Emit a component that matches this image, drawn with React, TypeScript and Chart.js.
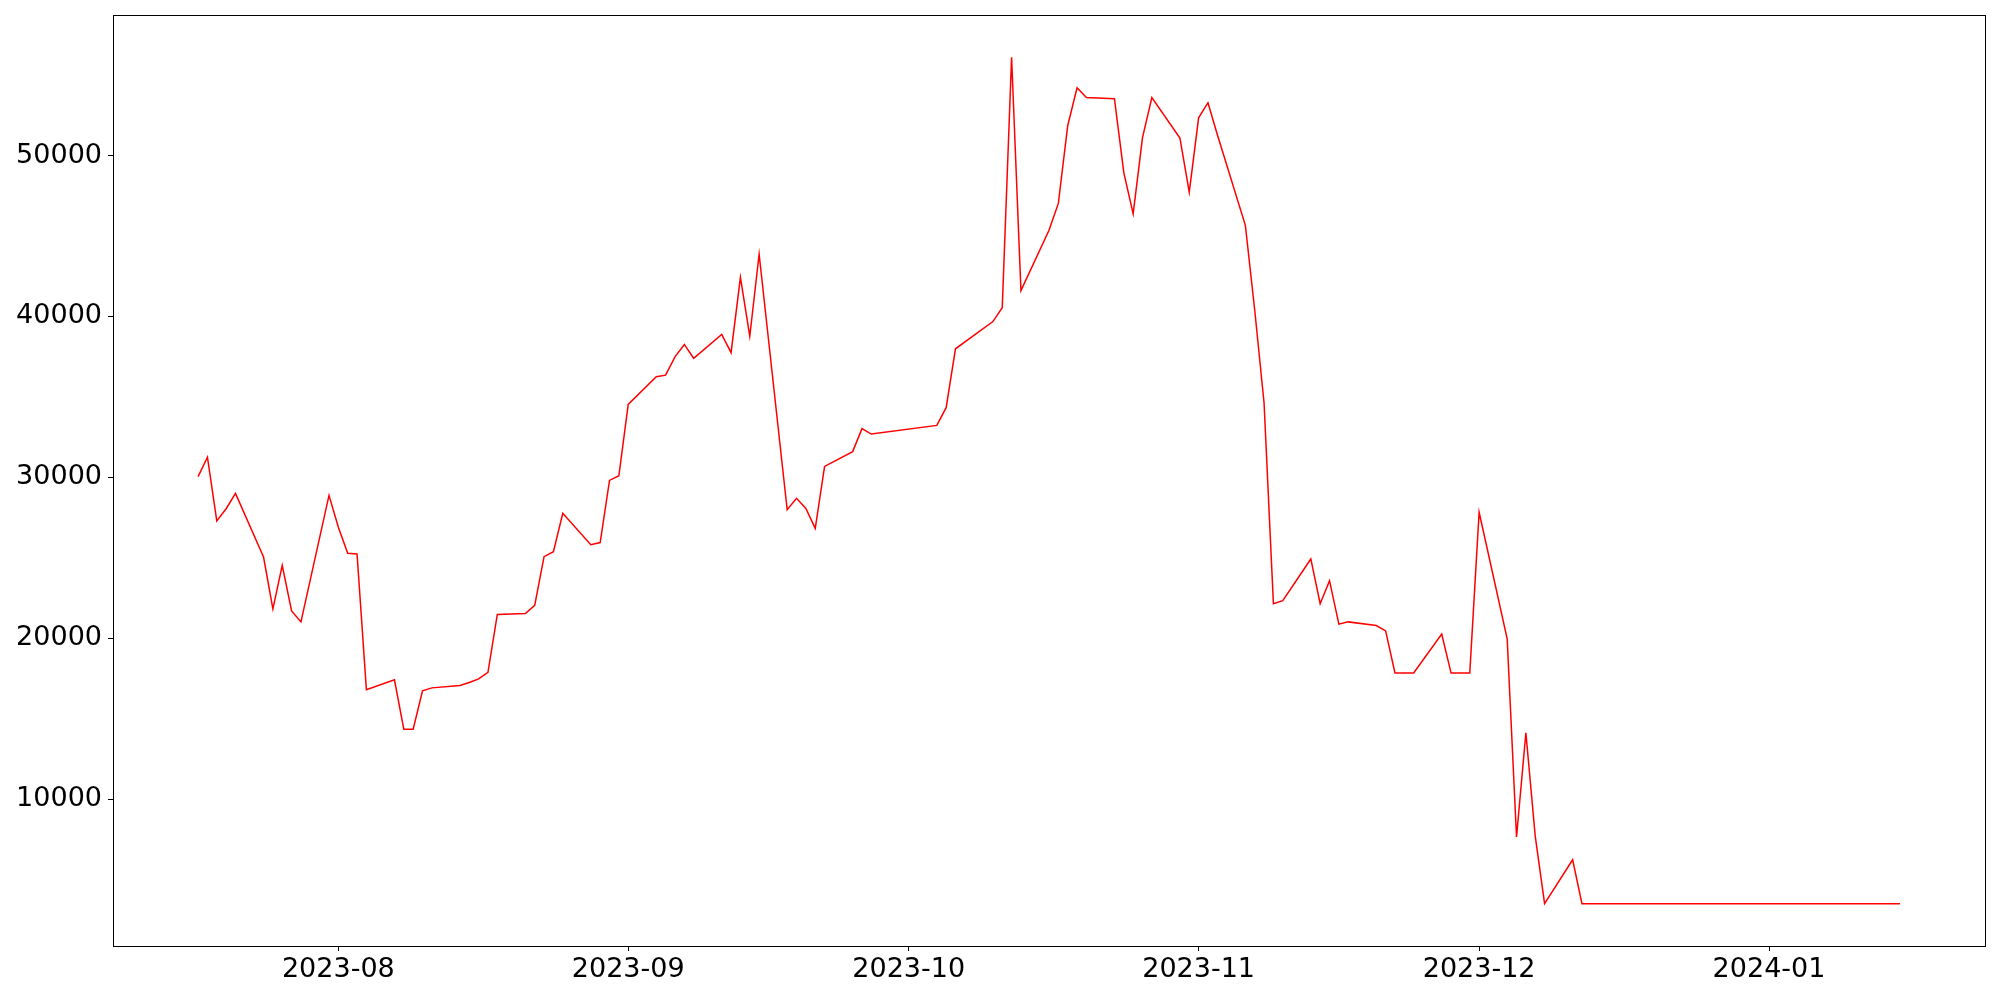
import React, { useEffect, useRef } from "react";
import { Chart, registerables } from "chart.js";

Chart.register(...registerables);

const dates: string[] = [
  "2023-07-17", "2023-07-18", "2023-07-19", "2023-07-20", "2023-07-21",
  "2023-07-24", "2023-07-25", "2023-07-26", "2023-07-27", "2023-07-28",
  "2023-07-31", "2023-08-01", "2023-08-02", "2023-08-03", "2023-08-04",
  "2023-08-07", "2023-08-08", "2023-08-09", "2023-08-10", "2023-08-11",
  "2023-08-14", "2023-08-15", "2023-08-16", "2023-08-17", "2023-08-18",
  "2023-08-21", "2023-08-22", "2023-08-23", "2023-08-24", "2023-08-25",
  "2023-08-28", "2023-08-29", "2023-08-30", "2023-08-31", "2023-09-01",
  "2023-09-04", "2023-09-05", "2023-09-06", "2023-09-07", "2023-09-08",
  "2023-09-11", "2023-09-12", "2023-09-13", "2023-09-14", "2023-09-15",
  "2023-09-18", "2023-09-19", "2023-09-20", "2023-09-21", "2023-09-22",
  "2023-09-25", "2023-09-26", "2023-09-27",
  "2023-10-04", "2023-10-05", "2023-10-06",
  "2023-10-10", "2023-10-11", "2023-10-12", "2023-10-13",
  "2023-10-16", "2023-10-17", "2023-10-18", "2023-10-19", "2023-10-20",
  "2023-10-23", "2023-10-24", "2023-10-25", "2023-10-26", "2023-10-27",
  "2023-10-30", "2023-10-31", "2023-11-01", "2023-11-02", "2023-11-03",
  "2023-11-06", "2023-11-07", "2023-11-08", "2023-11-09", "2023-11-10",
  "2023-11-13", "2023-11-14", "2023-11-15", "2023-11-16", "2023-11-17",
  "2023-11-20", "2023-11-21", "2023-11-22", "2023-11-24",
  "2023-11-27", "2023-11-28", "2023-11-29", "2023-11-30", "2023-12-01",
  "2023-12-04", "2023-12-05", "2023-12-06", "2023-12-07", "2023-12-08",
  "2023-12-11", "2023-12-12", "2024-01-15",
];

const values: number[] = [
  30050, 31250, 27290, 28050, 29000,
  25050, 21830, 24530, 21700, 21020,
  28880, 26900, 25280, 25240, 16800,
  17420, 14350, 14350, 16740, 16920,
  17070, 17250, 17480, 17890, 21480,
  21540, 22050, 25070, 25380, 27770,
  25820, 25950, 29810, 30100, 34530,
  36250, 36350, 37490, 38260, 37400,
  38880, 37750, 42430, 38770, 43870,
  27990, 28700, 28070, 26830, 30680,
  31600, 33030, 32690,
  33230, 34330, 37990,
  39680, 40540, 56100, 41600,
  45350, 47020, 51850, 54210, 53600,
  53530, 48940, 46370, 51110, 53600,
  51090, 47720, 52340, 53280, 51300,
  45660, 40400, 34620, 22150, 22340,
  24930, 22150, 23580, 20880, 21020,
  20790, 20460, 17850, 17850,
  20270, 17840, 17840, 17840, 27830,
  19970, 7650, 14130, 7710, 3510,
  6240, 3510, 3510,
];

const xTickDates: string[] = ["2023-08-01", "2023-09-01", "2023-10-01", "2023-11-01", "2023-12-01", "2024-01-01"];
const xTickLabels: string[] = ["2023-08", "2023-09", "2023-10", "2023-11", "2023-12", "2024-01"];
const yTicks: number[] = [10000, 20000, 30000, 40000, 50000];

const dayOf = (s: string): number => {
  const [y, m, d] = s.split("-").map(Number);
  return Date.UTC(y, m - 1, d) / 86400000;
};

const frameBox = {
  id: "frameBox",
  afterDraw(chart: any) {
    const { ctx, chartArea } = chart;
    ctx.save();
    ctx.strokeStyle = "#000";
    ctx.lineWidth = 1;
    ctx.strokeRect(
      Math.round(chartArea.left) + 0.5,
      Math.round(chartArea.top) + 0.5,
      Math.round(chartArea.right - chartArea.left),
      Math.round(chartArea.bottom - chartArea.top)
    );
    ctx.restore();
  },
};

export default function App() {
  const ref = useRef<HTMLCanvasElement | null>(null);

  useEffect(() => {
    if (!ref.current) return;
    const xs = dates.map(dayOf);
    const xMinD = Math.min(...xs);
    const xMaxD = Math.max(...xs);
    const xPad = (xMaxD - xMinD) * 0.05;
    const yMinD = Math.min(...values);
    const yMaxD = Math.max(...values);
    const yPad = (yMaxD - yMinD) * 0.05;
    const tickX = xTickDates.map(dayOf);
    const font = { family: "'DejaVu Sans', sans-serif", size: 27 };

    const chart = new Chart(ref.current, {
      type: "line",
      data: {
        datasets: [
          {
            data: xs.map((x, i) => ({ x, y: values[i] })),
            borderColor: "#ff0000",
            borderWidth: 1.5,
            pointRadius: 0,
            fill: false,
            tension: 0,
          },
        ],
      },
      options: {
        responsive: false,
        animation: false,
        devicePixelRatio: 1,
        layout: { padding: { top: 15, right: 15, left: 0, bottom: 0 } },
        plugins: { legend: { display: false }, tooltip: { enabled: false } },
        scales: {
          x: {
            type: "linear",
            min: xMinD - xPad,
            max: xMaxD + xPad,
            afterBuildTicks: (scale: any) => {
              scale.ticks = tickX.map((v) => ({ value: v }));
            },
            afterFit: (scale: any) => {
              scale.height = 54;
              scale.paddingLeft = 0;
              scale.paddingRight = 0;
            },
            ticks: {
              autoSkip: false,
              maxRotation: 0,
              minRotation: 0,
              padding: 3,
              color: "#000",
              font,
              callback: (v: any) => {
                const i = tickX.indexOf(Number(v));
                return i >= 0 ? xTickLabels[i] : "";
              },
            },
            grid: {
              display: true,
              drawOnChartArea: false,
              drawTicks: true,
              tickLength: 5,
              tickColor: "#000",
            },
            border: { display: true, color: "#000", width: 1 },
          },
          y: {
            type: "linear",
            min: yMinD - yPad,
            max: yMaxD + yPad,
            afterBuildTicks: (scale: any) => {
              scale.ticks = yTicks.map((v) => ({ value: v }));
            },
            afterFit: (scale: any) => {
              scale.width = 113;
              scale.paddingTop = 0;
              scale.paddingBottom = 0;
            },
            ticks: {
              padding: 6,
              color: "#000",
              font,
              callback: (v: any) => String(v),
            },
            grid: {
              display: true,
              drawOnChartArea: false,
              drawTicks: true,
              tickLength: 5,
              tickColor: "#000",
            },
            border: { display: true, color: "#000", width: 1 },
          },
        },
      },
      plugins: [frameBox],
    } as any);

    return () => chart.destroy();
  }, []);

  return (
    <div style={{ position: "fixed", left: 0, top: 0, width: 2000, height: 1000, background: "#fff" }}>
      <canvas ref={ref} width={2000} height={1000} style={{ display: "block", width: 2000, height: 1000 }} />
    </div>
  );
}
